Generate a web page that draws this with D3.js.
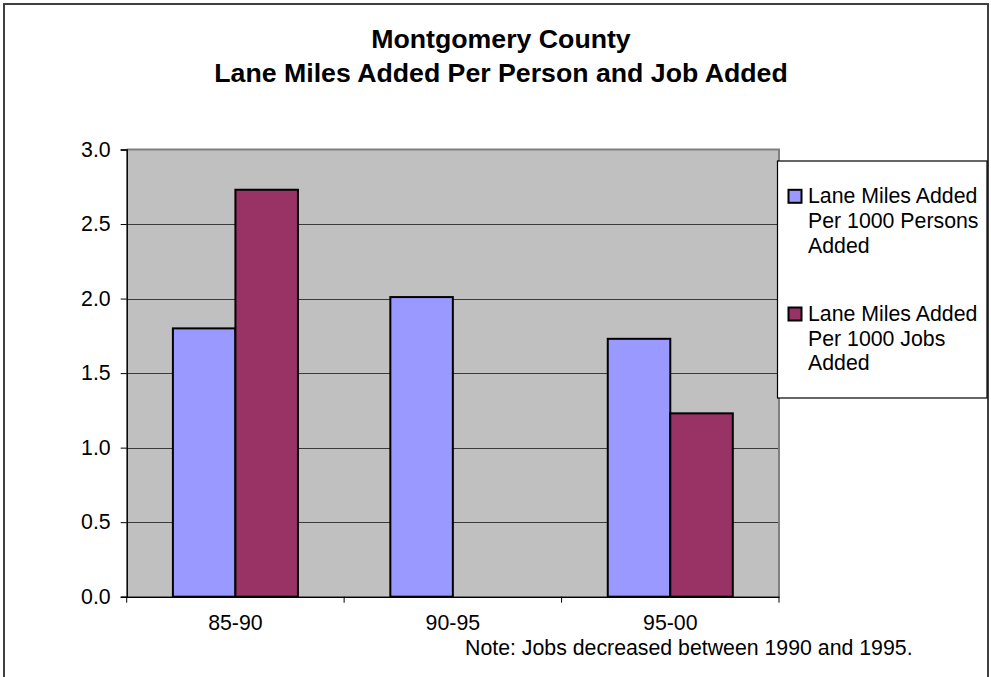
<!DOCTYPE html>
<html>
<head>
<meta charset="utf-8">
<script src="https://cdn.jsdelivr.net/npm/d3@7"></script>
<style>
  html, body { margin: 0; padding: 0; background: #fff; }
  svg { display: block; font-family: "Liberation Sans", Arial, sans-serif; }
</style>
</head>
<body>
<svg id="chart" width="991" height="677"></svg>
<script>
const titleLines = ["Montgomery County", "Lane Miles Added Per Person and Job Added"];
const categories = ["85-90", "90-95", "95-00"];
const seriesNames = ["Lane Miles Added Per 1000 Persons Added", "Lane Miles Added Per 1000 Jobs Added"];
const legendLines = [["Lane Miles Added", "Per 1000 Persons", "Added"], ["Lane Miles Added", "Per 1000 Jobs", "Added"]];
const personsValues = [1.80, 2.01, 1.73];
const jobsValues = [2.73, null, 1.23];
const seriesColors = ["#9999FF", "#993366"];
const yTicks = [0, 0.5, 1.0, 1.5, 2.0, 2.5, 3.0];
const noteText = "Note: Jobs decreased between 1990 and 1995.";

const svg = d3.select("#chart");

// outer chart border
svg.append("rect").attr("x", 4).attr("y", 4).attr("width", 984).attr("height", 690)
  .attr("fill", "#fff").attr("stroke", "#404040").attr("stroke-width", 2);

const plot = { left: 126.7, right: 779, top: 149.5, bottom: 596.7 };

const x = d3.scaleBand().domain(categories).range([plot.left, plot.right]).paddingInner(0).paddingOuter(0);
const xs = d3.scaleBand().domain([0, 1]).range([0, x.bandwidth()]).paddingInner(0).paddingOuter(0.739);
const y = d3.scaleLinear().domain([0, 3]).range([plot.bottom, plot.top]);

// plot background
svg.append("rect").attr("x", plot.left).attr("y", plot.top)
  .attr("width", plot.right - plot.left).attr("height", plot.bottom - plot.top)
  .attr("fill", "#C0C0C0");

// gridlines
svg.append("g").selectAll("line").data(yTicks.filter(d => d > 0 && d < 3)).join("line")
  .attr("x1", plot.left).attr("x2", plot.right)
  .attr("y1", d => Math.round(y(d)) + 0.5).attr("y2", d => Math.round(y(d)) + 0.5)
  .attr("stroke", "#3a3a3a").attr("stroke-width", 1);

// plot border top/right (gray)
svg.append("path")
  .attr("d", `M${plot.left},${plot.top} H${plot.right} V${plot.bottom}`)
  .attr("fill", "none").attr("stroke", "#808080").attr("stroke-width", 2);

// bars
const seriesData = [personsValues, jobsValues];
seriesData.forEach((vals, si) => {
  svg.append("g").selectAll("rect")
    .data(categories.map((c, i) => ({ c, v: vals[i] })).filter(d => d.v != null))
    .join("rect")
    .attr("x", d => x(d.c) + xs(si))
    .attr("y", d => y(d.v))
    .attr("width", xs.bandwidth())
    .attr("height", d => y(0) - y(d.v))
    .attr("fill", seriesColors[si])
    .attr("stroke", "#000").attr("stroke-width", 2);
});

// y axis
const yAxis = svg.append("g").attr("transform", `translate(${plot.left},0)`)
  .call(d3.axisLeft(y).tickValues(yTicks).tickFormat(d3.format(".1f")).tickSizeOuter(0).tickSize(6).tickPadding(10));
yAxis.select(".domain").attr("stroke", "#000").attr("stroke-width", 1.5);
yAxis.selectAll(".tick line").attr("stroke", "#000");
yAxis.selectAll("text").attr("font-size", "21.3px").attr("fill", "#000")
  .attr("font-family", "Liberation Sans, Arial, sans-serif");

// x axis
const xAxis = svg.append("g").attr("transform", `translate(0,${plot.bottom})`)
  .call(d3.axisBottom(x).tickSize(0).tickPadding(18));
xAxis.select(".domain").attr("stroke", "#000").attr("stroke-width", 1.5);
xAxis.selectAll("text").attr("font-size", "21.3px").attr("fill", "#000")
  .attr("font-family", "Liberation Sans, Arial, sans-serif");
// category boundary ticks
const bounds = categories.map(c => x(c) + x.bandwidth());
svg.append("g").selectAll("line").data([plot.left].concat(bounds)).join("line")
  .attr("x1", d => d).attr("x2", d => d)
  .attr("y1", plot.bottom).attr("y2", plot.bottom + 6)
  .attr("stroke", "#000").attr("stroke-width", 1);

// title
svg.append("g").selectAll("text").data(titleLines).join("text")
  .attr("x", 501).attr("y", (d, i) => 48 + i * 34)
  .attr("text-anchor", "middle").attr("font-weight", "bold").attr("font-size", "26.7px")
  .attr("fill", "#000").text(d => d);

// legend
const lg = svg.append("g");
lg.append("rect").attr("x", 777.5).attr("y", 161).attr("width", 209.5).attr("height", 237)
  .attr("fill", "#fff").attr("stroke", "#000").attr("stroke-width", 1.2);
const entryY = [203.3, 321];
seriesNames.forEach((name, i) => {
  lg.append("rect").attr("x", 788.5).attr("y", entryY[i] - 13.5).attr("width", 13).attr("height", 13)
    .attr("fill", seriesColors[i]).attr("stroke", "#000").attr("stroke-width", 2);
  const t = lg.append("text").attr("x", 808).attr("y", entryY[i])
    .attr("font-size", "21.3px").attr("fill", "#000");
  t.selectAll("tspan").data(legendLines[i]).join("tspan")
    .attr("x", 808).attr("dy", (d, j) => j === 0 ? 0 : 24.6).text(d => d);
  t.append("title").text(name);
});

// note
svg.append("text").attr("x", 465).attr("y", 655).attr("font-size", "21.3px").attr("fill", "#000").text(noteText);
</script>
</body>
</html>
